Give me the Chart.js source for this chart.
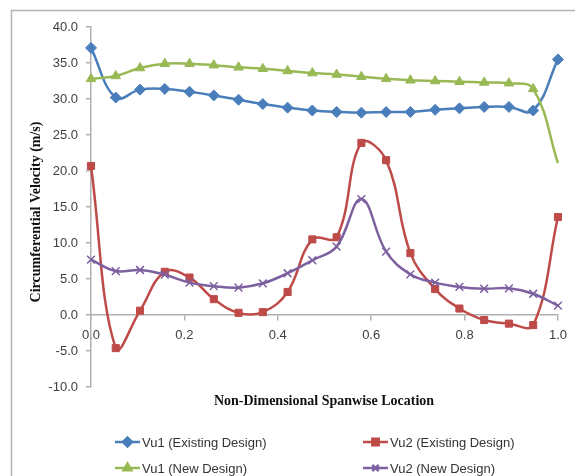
<!DOCTYPE html>
<html>
<head>
<meta charset="utf-8">
<script src="https://cdn.jsdelivr.net/npm/chart.js@4.4.0/dist/chart.umd.min.js"></script>
<style>
  html, body { margin: 0; padding: 0; background: #fff; }
  #wrap { width: 575px; height: 476px; position: relative; }
</style>
</head>
<body>
<div id="wrap"><canvas id="myChart"></canvas></div>
<script>
// spanwise stations (non-dimensional)
var spanLocs = [0, 0.053, 0.105, 0.158, 0.211, 0.263, 0.316, 0.368, 0.421, 0.474,
                0.526, 0.579, 0.632, 0.684, 0.737, 0.789, 0.842, 0.895, 0.947, 1.0];

var vu1Existing = [37.1, 30.2, 31.3, 31.4, 31.0, 30.5, 29.9, 29.3, 28.8, 28.4,
                   28.2, 28.1, 28.2, 28.2, 28.5, 28.7, 28.9, 28.9, 28.4, 35.5];
var vu2Existing = [20.7, -4.6, 0.6, 6.0, 5.2, 2.2, 0.3, 0.4, 3.2, 10.5,
                   10.8, 23.9, 21.5, 8.6, 3.6, 0.9, -0.7, -1.2, -1.4, 13.6];
var vu1New = [32.8, 33.2, 34.3, 34.9, 34.9, 34.7, 34.4, 34.2, 33.9, 33.6,
              33.4, 33.1, 32.8, 32.6, 32.5, 32.4, 32.3, 32.2, 31.4, 21.1];
var vu2New = [7.7, 6.1, 6.25, 5.6, 4.5, 4.0, 3.8, 4.4, 5.8, 7.6,
              9.5, 16.1, 8.8, 5.65, 4.5, 3.9, 3.65, 3.7, 2.95, 1.3];

var xTicks = [0, 0.2, 0.4, 0.6, 0.8, 1.0];
var yMin = -10, yMax = 40, yStep = 5;

var seriesNames = ['Vu1 (Existing Design)', 'Vu2 (Existing Design)', 'Vu1 (New Design)', 'Vu2 (New Design)'];
var seriesColors = ['#4a7ebb', '#be4b48', '#98b954', '#7d60a0'];
var seriesMarkers = ['rectRot', 'rect', 'triangle', 'crossRot'];

function pts(vals) {
    return vals.map(function (v, i) { return { x: spanLocs[i], y: v }; });
}

function makeSet(idx, vals, order) {
    return {
        label: seriesNames[idx],
        data: pts(vals),
        borderColor: seriesColors[idx],
        backgroundColor: seriesColors[idx],
        pointBorderColor: seriesColors[idx],
        pointBackgroundColor: seriesColors[idx],
        pointStyle: seriesMarkers[idx],
        pointRadius: idx === 1 ? 5 : 5.5,
        pointBorderWidth: idx === 3 ? 1.5 : 1,
        borderWidth: 2.5,
        tension: 0.4,
        fill: false,
        clip: false,
        order: order
    };
}

var green = makeSet(2, vu1New, 2);
green.pointRadius = vu1New.map(function (v, i) { return i === vu1New.length - 1 ? 0 : 5.5; });

// frame, axis titles and the 2x2 legend
var extras = {
    id: 'extras',
    afterDraw: function (chart) {
        var c = chart.ctx;
        c.save();
        c.strokeStyle = '#b4b4b4';
        c.lineWidth = 1.5;
        c.beginPath();
        c.moveTo(11.5, 480);
        c.lineTo(11.5, 10.5);
        c.lineTo(580, 10.5);
        c.stroke();

        c.fillStyle = '#111';
        c.font = 'bold 14px "Liberation Serif", "Times New Roman", serif';
        c.textAlign = 'center';
        c.textBaseline = 'middle';
        c.fillText('Non-Dimensional Spanwise Location', 324, 401);

        c.save();
        c.translate(36, 212);
        c.rotate(-Math.PI / 2);
        c.fillText('Circumferential Velocity (m/s)', 0, 0);
        c.restore();

        var spots = [[115, 442], [363, 442], [115, 468], [363, 468]];
        c.font = '13px "Liberation Sans", Arial, sans-serif';
        c.textAlign = 'left';
        chart.data.datasets.forEach(function (ds, i) {
            var x = spots[i][0], y = spots[i][1];
            c.strokeStyle = ds.borderColor;
            c.lineWidth = 2.5;
            c.beginPath();
            c.moveTo(x, y);
            c.lineTo(x + 25, y);
            c.stroke();
            c.fillStyle = ds.borderColor;
            Chart.helpers.drawPoint(c, {
                pointStyle: ds.pointStyle,
                radius: 4.5,
                rotation: 0,
                borderWidth: i === 3 ? 1.5 : 1
            }, x + 12.5, y);
            c.fillStyle = '#333';
            c.fillText(ds.label, x + 27, y + 1);
        });
        c.restore();
    }
};

var ctx = document.getElementById('myChart').getContext('2d');
var myChart = new Chart(ctx, {
    type: 'line',
    data: {
        datasets: [
            makeSet(0, vu1Existing, 4),
            makeSet(1, vu2Existing, 3),
            green,
            makeSet(3, vu2New, 1)
        ]
    },
    options: {
        responsive: true,
        maintainAspectRatio: false,
        animation: false,
        layout: {
            padding: { left: 0, top: 27, right: 17, bottom: 89 }
        },
        plugins: {
            legend: { display: false },
            tooltip: { enabled: false }
        },
        scales: {
            x: {
                type: 'linear',
                position: { y: 0 },
                min: 0,
                max: 1,
                afterBuildTicks: function (scale) {
                    scale.ticks = xTicks.map(function (v) { return { value: v }; });
                },
                border: { color: '#b0b0b0', width: 1.5 },
                grid: { drawOnChartArea: false, tickLength: 5, color: '#b0b0b0', lineWidth: 1.5 },
                ticks: {
                    padding: 8,
                    color: '#404040',
                    font: { family: '"Liberation Sans", Arial, sans-serif', size: 13 },
                    callback: function (v) { return Number(v).toFixed(1); }
                }
            },
            y: {
                min: yMin,
                max: yMax,
                afterFit: function (scale) { scale.width = 91; },
                border: { color: '#b0b0b0', width: 1.5 },
                grid: { drawOnChartArea: false, tickLength: 5, color: '#b0b0b0', lineWidth: 1.5 },
                ticks: {
                    stepSize: yStep,
                    padding: 8,
                    color: '#404040',
                    font: { family: '"Liberation Sans", Arial, sans-serif', size: 13 },
                    callback: function (v) { return Number(v).toFixed(1); }
                }
            }
        }
    },
    plugins: [extras]
});
</script>
</body>
</html>
